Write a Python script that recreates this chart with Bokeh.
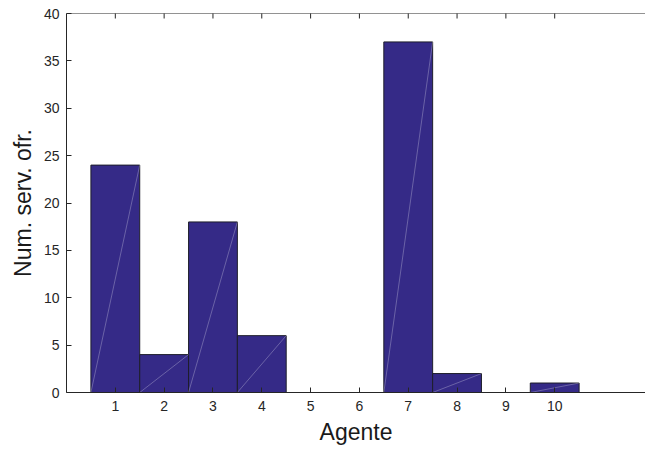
import math
from bokeh.plotting import figure
from bokeh.models import Range1d, FixedTicker, ColumnDataSource, Span
from bokeh.embed import file_html
from bokeh.resources import INLINE

agentes = [1, 2, 3, 4, 5, 6, 7, 8, 9, 10]
servicios = [24, 4, 18, 6, 0, 0, 37, 2, 0, 1]
y_ticks = [0, 5, 10, 15, 20, 25, 30, 35, 40]

x_label = "Agente"
y_label = "Num. serv. ofr."

FONT = "Liberation Sans"
TXT = "#262626"
BAR = "#352a87"
Y_MAX = 40

p = figure(width=645, height=450, output_backend="svg", toolbar_location=None,
           x_range=Range1d(0, 11.86), y_range=Range1d(0, Y_MAX),
           min_border_left=66, min_border_right=0, min_border_top=13, min_border_bottom=58)
p.outline_line_color = None
p.grid.visible = False
p.background_fill_color = "white"

src = ColumnDataSource(dict(x=agentes, top=servicios))
p.vbar(x="x", top="top", width=1, bottom=0, source=src,
       fill_color=BAR, line_color="#1e1e2a", line_width=1)

# faint diagonal rendering artifacts on each bar
dx0 = [a - 0.5 for a, v in zip(agentes, servicios) if v > 0]
dx1 = [a + 0.5 for a, v in zip(agentes, servicios) if v > 0]
dy1 = [v for v in servicios if v > 0]
p.segment(x0=dx0, y0=[0] * len(dx0), x1=dx1, y1=dy1,
          line_color="white", line_alpha=0.45, line_width=0.6)

# top box line with inward ticks (no labels)
p.add_layout(Span(location=Y_MAX, dimension="width", line_color=TXT, line_width=1))
p.scatter(x=agentes, y=[Y_MAX] * len(agentes), marker="dash", angle=math.pi / 2,
          size=10, line_color=TXT, line_width=1)

for ax in (p.xaxis[0], p.yaxis[0]):
    ax.major_tick_in = 5
    ax.major_tick_out = 0
    ax.minor_tick_line_color = None
    ax.axis_line_color = TXT
    ax.major_tick_line_color = TXT
    ax.major_label_text_font = FONT
    ax.major_label_text_font_size = "14px"
    ax.major_label_text_color = TXT
    ax.axis_label_text_font = FONT
    ax.axis_label_text_font_size = "23px"
    ax.axis_label_text_font_style = "normal"
    ax.axis_label_text_color = "#1a1a1a"

p.xaxis.ticker = FixedTicker(ticks=agentes)
p.yaxis.ticker = FixedTicker(ticks=y_ticks)
p.xaxis.axis_label = x_label
p.yaxis.axis_label = y_label
p.xaxis.major_label_standoff = 8
p.xaxis.axis_label_standoff = 5
p.yaxis.major_label_standoff = 7
p.yaxis.axis_label_standoff = 5

open("out.html", "w").write(file_html(p, INLINE))
